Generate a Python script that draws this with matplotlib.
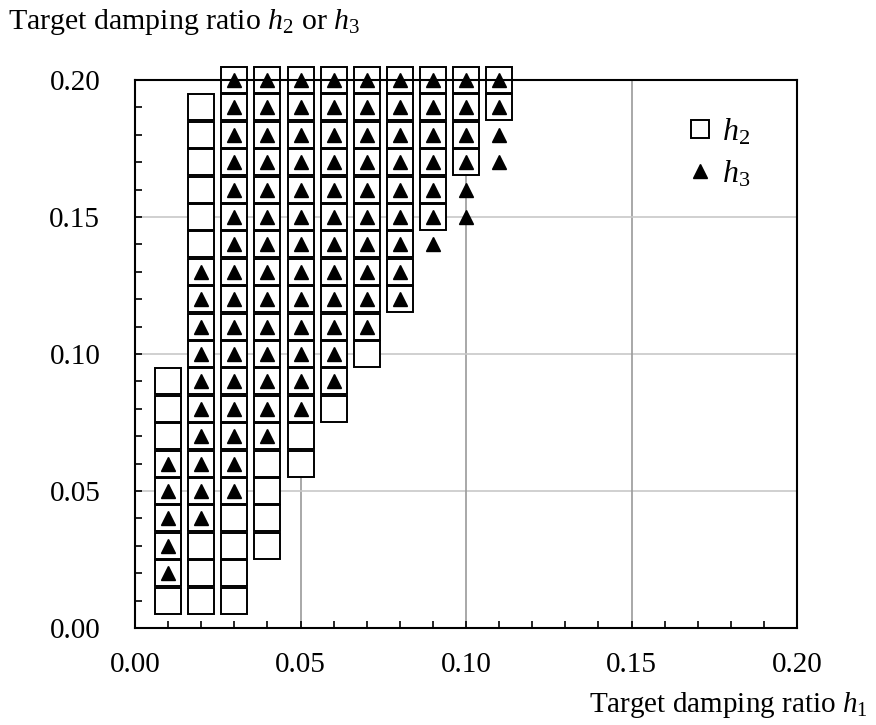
import numpy as np
import matplotlib
matplotlib.use("Agg")
import matplotlib.pyplot as plt
from matplotlib.lines import Line2D

# ---- data ----
h1_cols = [0.01, 0.02, 0.03, 0.04, 0.05, 0.06, 0.07, 0.08, 0.09, 0.10, 0.11]
h2_min = [0.01, 0.01, 0.01, 0.03, 0.06, 0.08, 0.10, 0.12, 0.15, 0.17, 0.19]
h2_max = [0.09, 0.19, 0.20, 0.20, 0.20, 0.20, 0.20, 0.20, 0.20, 0.20, 0.20]
h3_min = [0.02, 0.04, 0.05, 0.07, 0.08, 0.09, 0.11, 0.12, 0.14, 0.15, 0.17]
h3_max = [0.06, 0.13, 0.20, 0.20, 0.20, 0.20, 0.20, 0.20, 0.20, 0.20, 0.20]
x_ticks = [0.00, 0.05, 0.10, 0.15, 0.20]
y_ticks = [0.00, 0.05, 0.10, 0.15, 0.20]

def expand(cols, lo, hi):
    xs, ys = [], []
    for c, a, b in zip(cols, lo, hi):
        for k in range(int(round(a * 100)), int(round(b * 100)) + 1):
            xs.append(c)
            ys.append(k / 100)
    return xs, ys

x2, y2 = expand(h1_cols, h2_min, h2_max)
x3, y3 = expand(h1_cols, h3_min, h3_max)

plt.rcParams['font.family'] = ['Liberation Serif', 'DejaVu Serif']
plt.rcParams['mathtext.fontset'] = 'custom'
plt.rcParams['mathtext.rm'] = 'Liberation Serif'
plt.rcParams['mathtext.it'] = 'Liberation Serif:italic'

fig = plt.figure(figsize=(8.76, 7.25), dpi=100)
ax = fig.add_axes([135/876, 1 - 628/725, 662/876, 548/725])

ax.set_xlim(0, 0.20)
ax.set_ylim(0, 0.20)

for v in [0.05, 0.10, 0.15]:
    ax.axvline(v, color='#9a9a9a', lw=1.2, zorder=0)
    ax.axhline(v, color='#c8c8c8', lw=1.2, zorder=0)

ax.plot(x2, y2, linestyle='none', marker='s', markersize=18.6,
        markerfacecolor='white', markeredgecolor='black', markeredgewidth=1.4,
        clip_on=False, zorder=3)
ax.plot(x3, y3, linestyle='none', marker='^', markersize=10.5,
        color='black', clip_on=False, zorder=4)

ax.set_xticks(x_ticks)
ax.set_yticks(y_ticks)
ax.set_xticklabels([f"{v:.2f}" for v in x_ticks])
ax.set_yticklabels([f"{v:.2f}" for v in y_ticks])
ax.set_xticks(np.round(np.arange(0, 0.201, 0.01), 2), minor=True)
ax.set_yticks(np.round(np.arange(0, 0.201, 0.01), 2), minor=True)
ax.tick_params(which='both', direction='in', length=5, width=1.2,
               top=False, right=False, labelsize=21)
ax.tick_params(axis='x', pad=17)
ax.tick_params(axis='y', pad=25)

for s in ax.spines.values():
    s.set_linewidth(1.5)
    s.set_zorder(5)

fig.text(8/876, 1 - 22/725, r"Target damping ratio $h_2$ or $h_3$",
         fontsize=21.5, ha='left', va='center')
fig.text(868/876, 1 - 705/725, r"Target damping ratio $h_1$",
         fontsize=21, ha='right', va='center')

handles = [
    Line2D([], [], linestyle='none', marker='s', markersize=13,
           markerfacecolor='white', markeredgecolor='black', markeredgewidth=1.4),
    Line2D([], [], linestyle='none', marker='^', markersize=10, color='black'),
]
ax.legend(handles, [r"$h_2$", r"$h_3$"], loc='upper left',
          bbox_to_anchor=(0.79, 0.985), frameon=False, fontsize=23,
          handlelength=0.8, handletextpad=0.3, labelspacing=0.35)

fig.savefig("out.png", dpi=100)
